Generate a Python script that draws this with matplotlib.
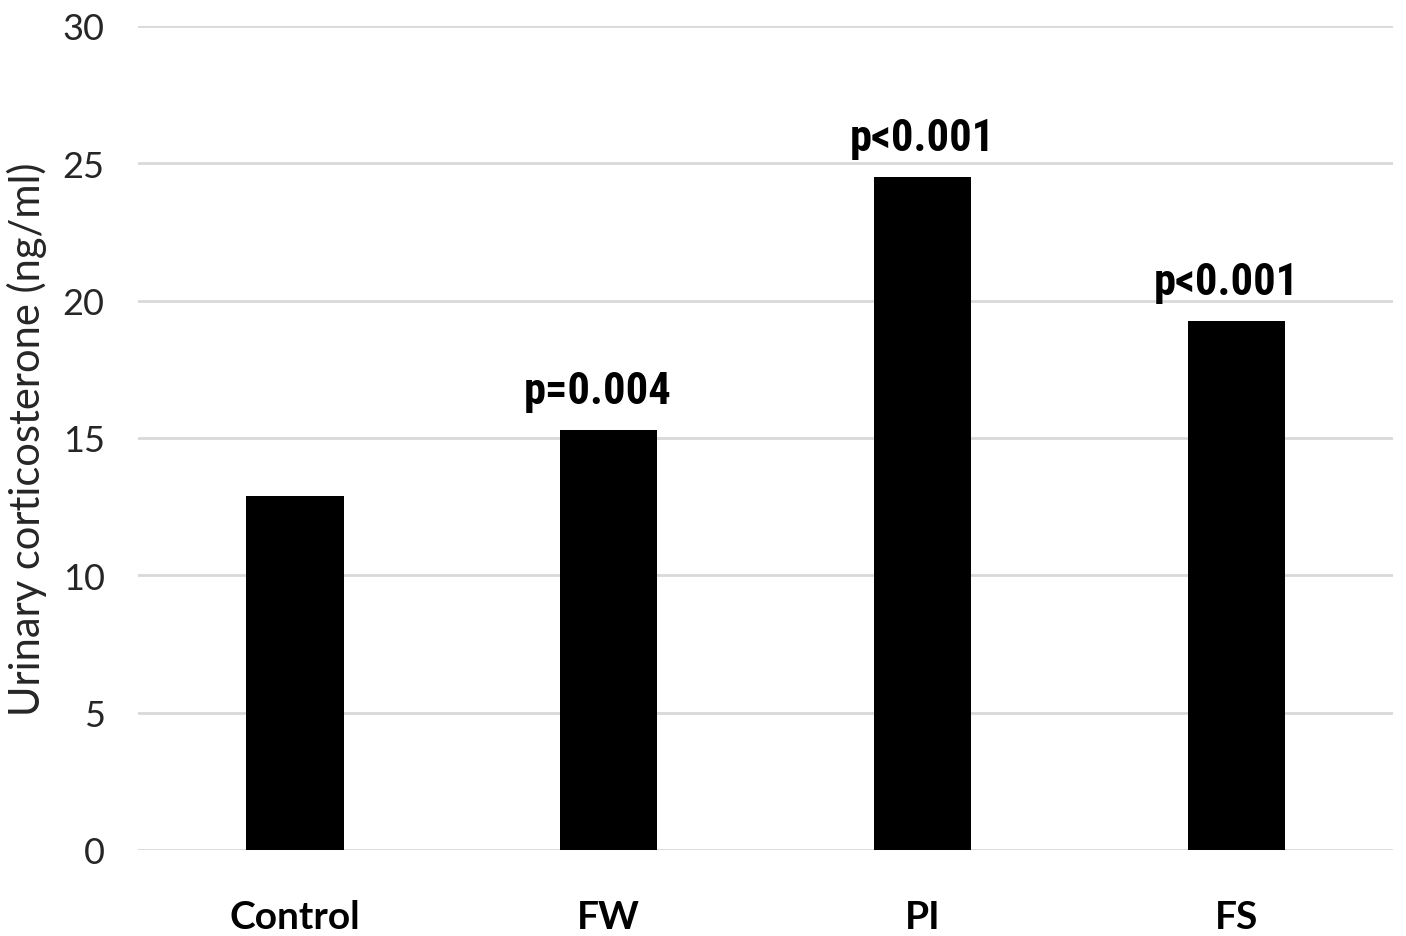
import matplotlib

matplotlib.use("Agg")

import matplotlib.pyplot as plt

categories = ["Control", "FW", "PI", "FS"]
values = [12.9, 15.3, 24.5, 19.25]
p_labels = ["", "p=0.004", "p<0.001", "p<0.001"]
y_ticks = [0, 5, 10, 15, 20, 25, 30]

plt.rcParams["font.family"] = ["Lato", "DejaVu Sans"]

fig = plt.figure(figsize=(14.06, 9.37), dpi=100)
ax = fig.add_axes([0.0982, 0.0918, 0.8926, 0.8794])

x = list(range(len(categories)))
bars = ax.bar(x, values, width=0.31, color="black", zorder=3)

ax.set_xlim(-0.5, len(categories) - 0.5)
ax.set_ylim(0, 30)
ax.set_yticks(y_ticks)
ax.set_yticklabels([str(t) for t in y_ticks], fontsize=26, color="#262626")
ax.set_xticks(x)
ax.set_xticklabels(categories, fontsize=28, fontweight="bold", color="black")

ax.yaxis.grid(True, color="#d9d9d9", linewidth=2, zorder=0)
ax.tick_params(axis="y", length=0, pad=24)
ax.tick_params(axis="x", length=0, pad=35)
for s in ax.spines.values():
    s.set_visible(False)

ax.set_ylabel("Urinary corticosterone (ng/ml)", fontsize=30, color="#262626",
              labelpad=11)

# p-values sit slightly left of the bar centre in the original
shifts = [0, -8, 0, -7]
for rect, lab, dx in zip(bars, p_labels, shifts):
    if lab:
        ax.annotate(
            lab,
            (rect.get_x() + rect.get_width() / 2, rect.get_height()),
            xytext=(dx, 13),
            textcoords="offset points",
            ha="center",
            va="bottom",
            fontsize=32,
            fontweight="bold",
            fontstretch="condensed",
            family=["Liberation Sans Narrow", "Roboto Condensed", "DejaVu Sans"],
        )

fig.savefig("out.png", dpi=100)
